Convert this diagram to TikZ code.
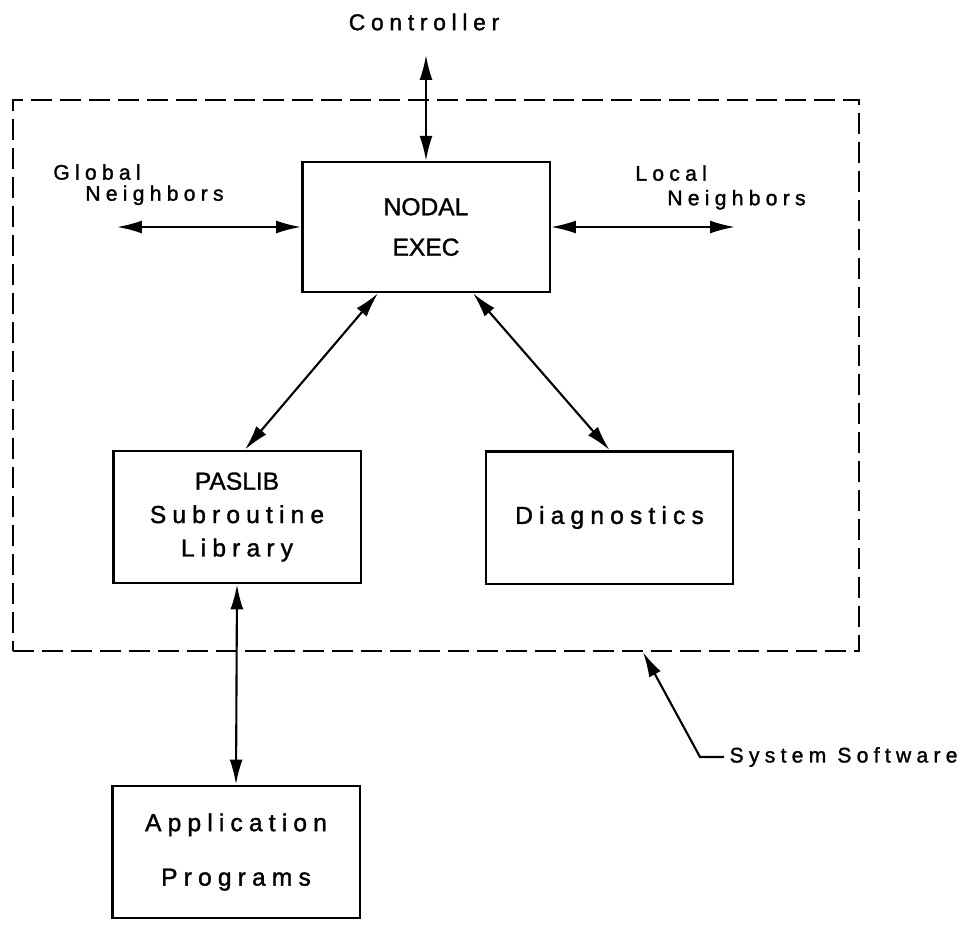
\documentclass[tikz,border=0pt]{standalone}
\usepackage{fontspec}
\setmainfont[FakeBold=1.2]{Liberation Sans}
\newfontfamily\plotfont[LetterSpace=25, FakeBold=1.4]{Liberation Sans}
\usetikzlibrary{arrows.meta}

\begin{document}
\begin{tikzpicture}[x=0.02cm, y=-0.02cm,
    unitbox/.style={draw, line width=1.4pt, minimum width=4.95cm, minimum height=2.65cm,
        align=center, inner sep=0pt, font=\fontsize{14}{19}\selectfont},
    lbl/.style={inner sep=0pt, font=\plotfont\fontsize{12}{12}\selectfont},
    biarrow/.style={line width=1.2pt,
        {Latex[length=5mm,width=2.6mm]}-{Latex[length=5mm,width=2.6mm]}},
    monoarrow/.style={line width=1.2pt, -{Latex[length=5mm,width=2.6mm]}}]
    \useasboundingbox (0,0) rectangle (969,926);

    % System boundary
    \node[draw, line width=1.4pt, dash pattern=on 4.2mm off 1.6mm,
        minimum width=16.92cm, minimum height=11.02cm] (frame) at (436,375.5) {};

    % Boxes
    \node[unitbox, minimum height=2.6cm, font=\fontsize{14}{23}\selectfont] (nodal) at (426,227) {NODAL\\EXEC};
    \node[unitbox] (paslib) at (237,517) {PASLIB\\{\plotfont Subroutine}\\{\plotfont Library}};
    \node[unitbox, font=\plotfont\fontsize{14}{19}\selectfont] (diag) at (609.5,517.5) {Diagnostics};
    \node[unitbox, font=\plotfont\fontsize{14}{31}\selectfont] (app) at (236,852) {Application\\Programs};

    % Labels
    \node[lbl, font=\plotfont\fontsize{13}{13}\selectfont] (ctrl) at (424,22) {Controller};
    \node[lbl, align=left, anchor=north west] (global) at (53,164) {Global\\\hspace*{0.64cm}Neighbors};
    \node[lbl, align=left, anchor=north west] (local) at (635,165) {Local\\[2pt]\hspace*{0.64cm}Neighbors};
    \node[lbl, anchor=west, inner sep=3pt] (syssw) at (724,757) {System Software};

    % Free ends
    \coordinate (ctrlend) at (426,55);
    \coordinate (globend) at (117,227);
    \coordinate (locend) at (735,227);
    \coordinate (elbow) at (700,757);

    % Links
    \draw[biarrow] (ctrlend) -- (nodal.north);
    \draw[biarrow] (globend) -- (nodal.west);
    \draw[biarrow] (nodal.east) -- (locend);
    \draw[biarrow] ([xshift=-0.96cm]nodal.south) -- ([xshift=0.16cm]paslib.north);
    \draw[biarrow] ([xshift=0.94cm]nodal.south) -- (diag.north);
    \draw[biarrow] (paslib.south) -- (app.north);
    \draw[monoarrow] (syssw.west) -- (elbow) -- ([xshift=4.14cm]frame.south);
\end{tikzpicture}
\end{document}
